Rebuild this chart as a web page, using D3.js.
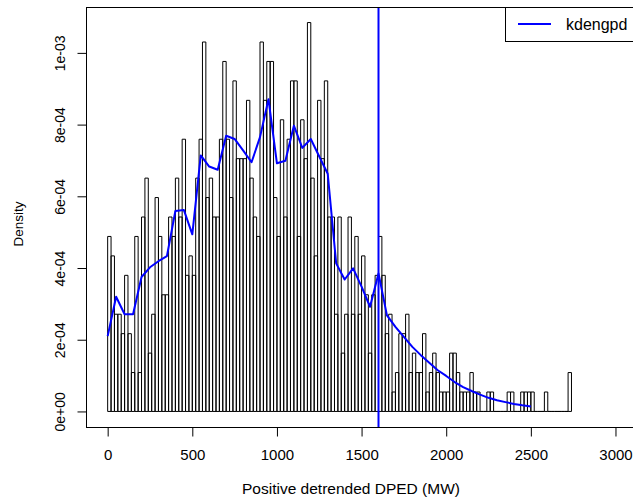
<!DOCTYPE html>
<html><head><meta charset="utf-8">
<script src="https://cdn.jsdelivr.net/npm/d3@7/dist/d3.min.js"></script>
<style>
body{margin:0;background:#fff}
svg{display:block}
text{font-family:"Liberation Sans",Arial,Helvetica,sans-serif;fill:#000}
</style>
</head><body>
<svg id="chart" width="633" height="497"></svg>
<script>
// ---- data ----
const binWidth = 20;          // MW per histogram bin
const binStart = 0;
const counts = [
  9,8,5,5,4,7,4,2,9,2,
  10,12,3,5,11,9,6,6,10,9,
  12,10,14,7,8,7,12,14,19,11,
  12,10,10,14,18,14,11,17,13,13,
  13,16,12,10,9,19,16,18,18,11,
  9,15,10,14,17,17,9,15,13,20,
  12,8,16,13,17,10,10,5,10,3,
  5,10,5,9,5,8,6,3,6,7,
  9,7,4,5,1,2,4,4,5,2,
  3,2,2,4,1,2,3,2,1,1,
  1,3,3,2,1,1,1,2,1,1,
  0,0,1,1,0,0,0,0,1,1,
  0,0,1,1,1,1,0,0,0,1,
  0,0,0,0,0,0,2
];
const kdeX = [0,50,100,150,200,250,300,350,400,450,500,550,600,650,700,750,800,850,900,950,
  1000,1050,1100,1150,1200,1250,1300,1350,1400,1450,1500,1550,1600,1650,1700,1750,1800,1850,1900,1950,
  2000,2050,2100,2150,2200,2250,2300,2350,2400,2450,2500];
const kdeY = [2.10,3.20,2.71,2.71,3.75,4.02,4.19,4.33,5.59,5.62,4.94,7.14,6.83,6.74,7.69,7.60,7.28,6.95,7.65,8.71,
  6.92,6.99,7.97,7.35,7.60,7.11,6.63,4.13,3.68,3.99,3.48,2.92,3.85,2.68,2.36,2.08,1.80,1.57,1.36,1.15,
  0.99,0.82,0.68,0.57,0.47,0.38,0.31,0.26,0.21,0.17,0.14]; // x 1e-4
const threshold = 1600;
const xlim = [0, 3200];
const xTicks = [0,500,1000,1500,2000,2500,3000];
const yTicks = [0,2e-4,4e-4,6e-4,8e-4,1e-3];
const yTickLabels = ["0e+00","2e-04","4e-04","6e-04","8e-04","1e-03"];
const legendLabels = ["kdengpd"];
const xTitle = "Positive detrended DPED (MW)";
const yTitle = "Density";

// ---- layout ----
const L = 86, T = 7, B = 427, R = 671;
const N = d3.sum(counts);
const bins = counts.map((c,i)=>({x0: binStart + i*binWidth, x1: binStart + (i+1)*binWidth, d: c/(N*binWidth)}));
const ymax = d3.max(bins, b=>b.d);
const xe = (xlim[1]-xlim[0])*0.04, ye = ymax*0.04;
const x = d3.scaleLinear().domain([xlim[0]-xe, xlim[1]+xe]).range([L, R]);
const y = d3.scaleLinear().domain([-ye, ymax+ye]).range([B, T]);

const svg = d3.select("#chart");

// bars
svg.append("g").selectAll("path").data(bins).join("path")
  .attr("d", b => `M${x(b.x0)},${y(0)}V${y(b.d)}H${x(b.x1)}V${y(0)}Z`)
  .attr("fill","none").attr("stroke","#000").attr("stroke-width",1);

// density line
const line = d3.line().x((d,i)=>x(kdeX[i])).y(d=>y(d*1e-4));
svg.append("path").datum(kdeY).attr("d", line)
  .attr("fill","none").attr("stroke","#0000FF").attr("stroke-width",2).attr("stroke-linejoin","round");

// threshold line
svg.append("line").attr("x1", x(threshold)).attr("x2", x(threshold)).attr("y1", T).attr("y2", B)
  .attr("stroke","#0000FF").attr("stroke-width",2);

// box
svg.append("rect").attr("x", L+0.5).attr("y", T+0.5).attr("width", R-L).attr("height", B-T)
  .attr("fill","none").attr("stroke","#000").attr("stroke-width",1);

// x axis
const gx = svg.append("g").attr("transform", `translate(0,${B+0.5})`)
  .call(d3.axisBottom(x).tickValues(xTicks).tickSize(9).tickSizeOuter(0).tickPadding(13).tickFormat(d3.format("d")));
gx.select(".domain").remove();
gx.selectAll("line").attr("stroke","#000");
gx.selectAll("text").attr("font-size",15).attr("font-family",'"Liberation Sans",Arial,sans-serif').attr("fill","#000");

// y axis
const gy = svg.append("g").attr("transform", `translate(${L+0.5},0)`)
  .call(d3.axisLeft(y).tickValues(yTicks).tickSize(9).tickSizeOuter(0).tickFormat((d,i)=>yTickLabels[i]));
gy.select(".domain").remove();
gy.selectAll("line").attr("stroke","#000");
gy.selectAll("text")
  .attr("x", 0).attr("dy", null).attr("text-anchor","middle")
  .attr("font-size",14).attr("font-family",'"Liberation Sans",Arial,sans-serif').attr("fill","#000")
  .attr("transform", "translate(-22,0) rotate(-90)");

// titles
svg.append("text").attr("x", 351).attr("y", 494).attr("text-anchor","middle")
  .attr("font-size",15.5).text(xTitle);
svg.append("text").attr("transform", `translate(23,224) rotate(-90)`).attr("text-anchor","middle")
  .attr("font-size",13.5).text(yTitle);

// legend
const lg = svg.append("g");
lg.append("rect").attr("x", 505.5).attr("y", T+0.5).attr("width", R-505).attr("height", 34)
  .attr("fill","#fff").attr("stroke","#000").attr("stroke-width",1);
lg.append("line").attr("x1", 518).attr("x2", 551).attr("y1", 24).attr("y2", 24)
  .attr("stroke","#0000FF").attr("stroke-width",2);
lg.append("text").attr("x", 566).attr("y", 29.5).attr("font-size",16).text(legendLabels[0]);
</script>
</body></html>
